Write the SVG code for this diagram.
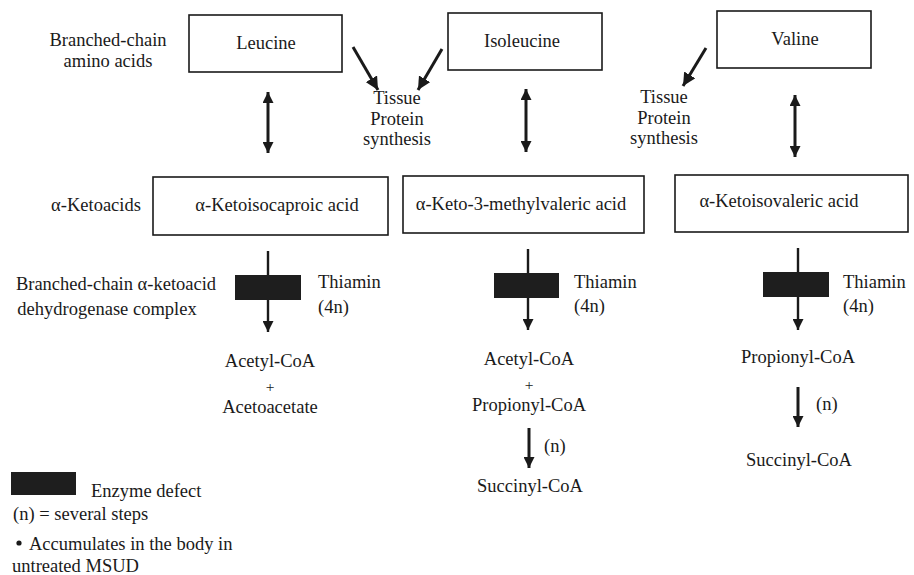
<svg xmlns="http://www.w3.org/2000/svg" width="914" height="575" viewBox="0 0 914 575">
<style>
text{font-family:"Liberation Serif","Times New Roman",serif;font-size:18.5px;fill:#1a1a1a}
.m{text-anchor:middle}
.plus{font-size:15.5px}
.box{fill:#fff;stroke:#1a1a1a;stroke-width:1.6}
.blk{fill:#1e1e1e;stroke:none}
.ln{stroke:#1a1a1a;stroke-width:2.4;fill:none}
.thick{stroke:#1a1a1a;stroke-width:3;fill:none}
</style>
<defs>
<marker id="ah" viewBox="0 0 10 10" refX="10" refY="5" markerWidth="11" markerHeight="11" markerUnits="userSpaceOnUse" orient="auto-start-reverse">
<path d="M0,0 L10,5 L0,10 z" fill="#1a1a1a"/>
</marker>
<marker id="ah2" viewBox="0 0 10 10" refX="10" refY="5" markerWidth="13" markerHeight="13" markerUnits="userSpaceOnUse" orient="auto">
<path d="M0,0 L10,5 L0,10 z" fill="#1a1a1a"/>
</marker>
</defs>
<rect width="914" height="575" fill="#fff"/>

<g id="labels">
<text class="m" x="108" y="46">Branched-chain</text>
<text class="m" x="108" y="67">amino acids</text>
<text class="m" x="96" y="211">α-Ketoacids</text>
<text class="m" x="116" y="290">Branched-chain α-ketoacid</text>
<text class="m" x="107" y="315">dehydrogenase complex</text>
</g>

<g id="connectors">
<line class="thick" x1="353" y1="47" x2="378" y2="90" marker-end="url(#ah2)"/>
<line class="thick" x1="442" y1="49" x2="418" y2="90" marker-end="url(#ah2)"/>
<line class="thick" x1="706" y1="48" x2="683" y2="86" marker-end="url(#ah2)"/>
<line class="thick" x1="268" y1="92" x2="268" y2="153" marker-start="url(#ah)" marker-end="url(#ah)"/>
<line class="thick" x1="526" y1="89" x2="526" y2="152" marker-start="url(#ah)" marker-end="url(#ah)"/>
<line class="thick" x1="795" y1="95" x2="795" y2="157" marker-start="url(#ah)" marker-end="url(#ah)"/>
<line class="ln" x1="268" y1="251" x2="268" y2="332" marker-end="url(#ah)"/>
<line class="ln" x1="528" y1="249" x2="528" y2="330" marker-end="url(#ah)"/>
<line class="ln" x1="798" y1="248" x2="798" y2="330" marker-end="url(#ah)"/>
<line class="thick" x1="529" y1="428" x2="529" y2="468" marker-end="url(#ah)"/>
<line class="thick" x1="798" y1="387" x2="798" y2="427" marker-end="url(#ah)"/>
</g>

<g id="leucine"><rect class="box" x="189" y="15" width="153" height="57"/><text class="m" x="266" y="49">Leucine</text></g>
<g id="isoleucine"><rect class="box" x="448" y="13" width="154" height="57"/><text class="m" x="522" y="47">Isoleucine</text></g>
<g id="valine"><rect class="box" x="717" y="11" width="154" height="57"/><text class="m" x="795" y="45">Valine</text></g>

<g id="tissue1"><text class="m" x="397" y="104">Tissue</text><text class="m" x="397" y="125">Protein</text><text class="m" x="397" y="145">synthesis</text></g>
<g id="tissue2"><text class="m" x="664" y="103">Tissue</text><text class="m" x="664" y="124">Protein</text><text class="m" x="664" y="144">synthesis</text></g>

<g id="kic"><rect class="box" x="153" y="177" width="235" height="58"/><text class="m" x="277" y="211">α-Ketoisocaproic acid</text></g>
<g id="kmv"><rect class="box" x="403" y="176" width="241" height="57"/><text class="m" x="521" y="210">α-Keto-3-methylvaleric acid</text></g>
<g id="kiv"><rect class="box" x="675" y="175" width="233" height="57"/><text class="m" x="779" y="207">α-Ketoisovaleric acid</text></g>

<g id="block1"><rect class="blk" x="235" y="275" width="66" height="25"/><text x="318" y="288">Thiamin</text><text x="318" y="313">(4n)</text></g>
<g id="block2"><rect class="blk" x="494" y="273" width="65" height="25"/><text x="574" y="288">Thiamin</text><text x="574" y="312">(4n)</text></g>
<g id="block3"><rect class="blk" x="763" y="272" width="66" height="25"/><text x="843" y="288">Thiamin</text><text x="843" y="312">(4n)</text></g>

<g id="products1"><text class="m" x="270" y="367">Acetyl-CoA</text><text class="m plus" x="270" y="392">+</text><text class="m" x="270" y="413">Acetoacetate</text></g>
<g id="products2"><text class="m" x="529" y="365">Acetyl-CoA</text><text class="m plus" x="529" y="390">+</text><text class="m" x="529" y="411">Propionyl-CoA</text><text x="544" y="452">(n)</text><text class="m" x="530" y="492">Succinyl-CoA</text></g>
<g id="products3"><text class="m" x="798" y="363">Propionyl-CoA</text><text x="816" y="410">(n)</text><text class="m" x="799" y="466">Succinyl-CoA</text></g>

<g id="legend">
<rect class="blk" x="11" y="472" width="65" height="23"/>
<text x="91" y="497">Enzyme defect</text>
<text x="13" y="520">(n) = several steps</text>
<circle cx="19" cy="543" r="2.6" fill="#1a1a1a"/>
<text x="29" y="550">Accumulates in the body in</text>
<text x="12" y="572">untreated MSUD</text>
</g>
</svg>
